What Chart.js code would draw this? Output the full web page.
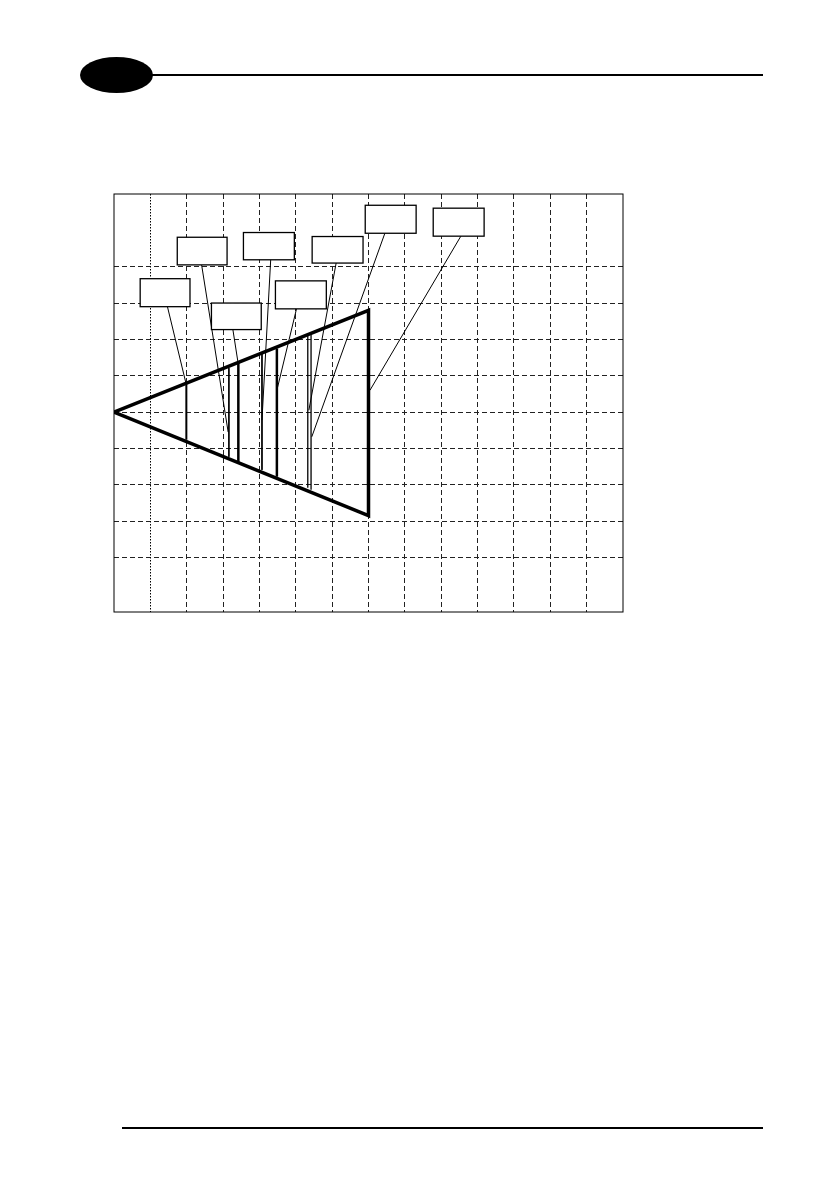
<!DOCTYPE html>
<html>
<head>
<meta charset="utf-8">
<script src="https://cdn.jsdelivr.net/npm/chart.js@4/dist/chart.umd.min.js"></script>
<style>
  body { margin:0; background:#fff; }
  #page { position:relative; width:839px; height:1191px; overflow:hidden; }
  #chapter { position:absolute; left:80px; top:57px; width:73px; height:36px; background:#000; border-radius:50%; }
  #topRule { position:absolute; left:150px; top:74px; width:613px; height:1.5px; background:#000; }
  #bottomRule { position:absolute; left:122px; top:1127px; width:641px; height:1.5px; background:#000; }
  canvas { position:absolute; left:0; top:0; }
</style>
</head>
<body>
<div id="page">
  <div id="chapter"></div>
  <div id="topRule"></div>
  <canvas id="beam" width="839" height="1191"></canvas>
  <div id="bottomRule"></div>
</div>
<script>
// grid
var xTicks = [1,2,3,4,5,6,7,8,9,10,11,12,13];
var yTicks = [-4,-3,-2,-1,0,1,2,3,4];
var dottedX = 1; // first vertical line is dotted, not dashed

// beam triangle (apex, top, bottom)
var beamX = [0, 7, 7, 0];
var beamY = [0, 2.8, -2.85, 0];

// vertical bars inside the beam: x, top, bottom, weight
var barX      = [1.99, 3.16, 3.42, 4.07, 4.48, 5.33, 5.42];
var barTop    = [0.79, 1.21, 1.37, 1.62, 1.75, 2.11, 2.14];
var barBottom = [-0.76, -1.23, -1.37, -1.59, -1.78, -2.08, -2.14];
var barWeight = [2, 1, 2.5, 1, 2.5, 1.3, 1.3];

// label boxes (empty) : left, right, top, bottom
var boxLeft   = [0.72, 1.74, 3.56, 5.45, 6.91, 8.78, 2.68, 4.44];
var boxRight  = [2.09, 3.11, 4.96, 6.85, 8.31, 10.18, 4.05, 5.84];
var boxTop    = [3.67, 4.81, 4.94, 4.83, 5.69, 5.61, 3.00, 3.61];
var boxBottom = [2.90, 4.05, 4.19, 4.10, 4.92, 4.84, 2.27, 2.84];

// leader lines from each box
var leadFromX = [1.47, 2.41, 4.31, 6.11, 7.45, 9.54, 3.27, 5.02];
var leadFromY = [2.90, 4.05, 4.19, 4.10, 4.92, 4.84, 2.27, 2.84];
var leadToX   = [1.98, 3.14, 4.07, 5.36, 5.44, 7.04, 3.41, 4.48];
var leadToY   = [0.79, -0.55, -0.22, 0.05, -0.68, 0.60, 1.37, 0.60];

var datasets = [];

datasets.push({
  data: beamX.map(function(x, i){ return {x:x, y:beamY[i]}; }),
  borderColor:'#000', borderWidth:3.5, borderJoinStyle:'miter'
});

for (var i = 0; i < barX.length; i++) {
  datasets.push({
    data: [{x:barX[i], y:barTop[i]}, {x:barX[i], y:barBottom[i]}],
    borderColor:'#000', borderWidth:barWeight[i]
  });
}

for (var j = 0; j < leadFromX.length; j++) {
  datasets.push({
    data: [{x:leadFromX[j], y:leadFromY[j]}, {x:leadToX[j], y:leadToY[j]}],
    borderColor:'#000', borderWidth:1
  });
}

/*frame, dotted line and boxes*/
var framePlugin = {
  id:'frame',
  beforeDatasetsDraw: function(chart){
    var ctx = chart.ctx, a = chart.chartArea;
    var px = Math.round(chart.scales.x.getPixelForValue(dottedX)) + 0.5;
    ctx.save();
    ctx.strokeStyle = '#000';
    ctx.lineWidth = 1;
    ctx.setLineDash([1.5, 1.5]);
    ctx.beginPath();
    ctx.moveTo(px, a.top);
    ctx.lineTo(px, a.bottom);
    ctx.stroke();
    ctx.restore();
  },
  afterDatasetsDraw: function(chart){
    var ctx = chart.ctx, a = chart.chartArea;
    var sx = chart.scales.x, sy = chart.scales.y;
    ctx.save();
    ctx.strokeStyle = '#000';
    ctx.lineWidth = 1;
    ctx.strokeRect(a.left, a.top, a.right - a.left, a.bottom - a.top);
    for (var k = 0; k < boxLeft.length; k++) {
      var l = sx.getPixelForValue(boxLeft[k]), r = sx.getPixelForValue(boxRight[k]);
      var t = sy.getPixelForValue(boxTop[k]), b = sy.getPixelForValue(boxBottom[k]);
      ctx.fillStyle = '#fff';
      ctx.fillRect(l, t, r - l, b - t);
      ctx.lineWidth = 1.3;
      ctx.strokeRect(l, t, r - l, b - t);
    }
    ctx.restore();
  }
};

var chart = new Chart(document.getElementById('beam'), {
  type:'scatter',
  data:{ datasets: datasets },
  options:{
    responsive:false,
    animation:false,
    showLine:true,
    layout:{ padding:{ left:114, top:194, right:216, bottom:579 } },
    elements:{ point:{ radius:0, hoverRadius:0 }, line:{ tension:0 } },
    plugins:{ legend:{ display:false }, tooltip:{ enabled:false } },
    scales:{
      x:{
        type:'linear', min:0, max:14,
        afterBuildTicks: function(s){ s.ticks = xTicks.map(function(v){ return {value:v}; }); },
        ticks:{ display:false },
        grid:{
          color: function(c){ return c.tick && c.tick.value === dottedX ? 'rgba(0,0,0,0)' : '#222'; },
          lineWidth:1, drawTicks:false
        },
        border:{ display:false, dash:[5,3] }
      },
      y:{
        type:'linear', min:-5.5, max:6,
        afterBuildTicks: function(s){ s.ticks = yTicks.map(function(v){ return {value:v}; }); },
        ticks:{ display:false },
        grid:{ color:'#222', lineWidth:1, drawTicks:false },
        border:{ display:false, dash:[5,3] }
      }
    }
  },
  plugins:[framePlugin]
});
</script>
</body>
</html>
